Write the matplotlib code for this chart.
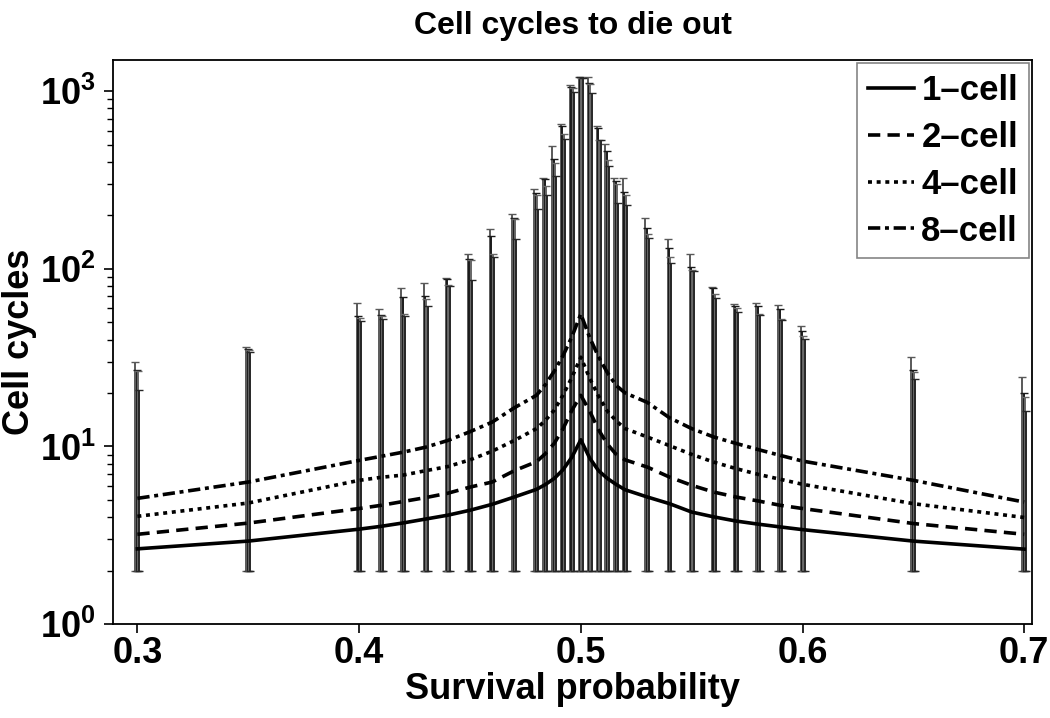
import numpy as np
import matplotlib
matplotlib.use("Agg")
import matplotlib.pyplot as plt
from matplotlib.ticker import LogLocator, NullFormatter

plt.rcParams['font.family'] = ['Liberation Sans', 'DejaVu Sans']
plt.rcParams['font.weight'] = 'bold'
plt.rcParams['mathtext.fontset'] = 'custom'
plt.rcParams['mathtext.rm'] = 'Liberation Sans:bold'
plt.rcParams['mathtext.bf'] = 'Liberation Sans:bold'
plt.rcParams['mathtext.default'] = 'rm'

# survival probability values where the runs were made
x = np.array([0.30, 0.35, 0.40, 0.41, 0.42, 0.43, 0.44, 0.45, 0.46, 0.47,
              0.48, 0.484, 0.488, 0.492, 0.496, 0.50, 0.504, 0.508, 0.512, 0.516,
              0.52, 0.53, 0.54, 0.55, 0.56, 0.57, 0.58, 0.59, 0.60, 0.65, 0.70])

# mean cell cycles to die out (curves)
one_cell = [2.65, 2.93, 3.42, 3.55, 3.71, 3.9, 4.1, 4.37, 4.72, 5.19,
            5.73, 6.1, 6.6, 7.4, 8.71, 10.9, 8.6, 7.3, 6.6, 6.1,
            5.7, 5.19, 4.76, 4.27, 4.01, 3.80, 3.65, 3.52, 3.40, 2.93, 2.64]
two_cell = [3.2, 3.7, 4.47, 4.66, 4.9, 5.15, 5.45, 5.9, 6.3, 7.3,
            8.2, 9.1, 10.4, 12.6, 16.0, 19.4, 15.8, 12.4, 10.3, 9.0,
            8.4, 7.65, 6.72, 6.04, 5.53, 5.19, 4.93, 4.66, 4.47, 3.68, 3.2]
four_cell = [4.04, 4.8, 6.44, 6.7, 6.9, 7.3, 7.7, 8.4, 9.4, 10.8,
             12.6, 14.0, 16.0, 19.5, 24.5, 31.8, 24.2, 19.2, 15.8, 13.9,
             12.6, 11.3, 10.1, 9.02, 8.16, 7.5, 6.96, 6.53, 6.12, 4.76, 3.98]
eight_cell = [5.1, 6.3, 8.34, 8.8, 9.29, 9.9, 10.8, 12.1, 13.7, 16.5,
              19.4, 22.3, 26.5, 32.5, 41.5, 55.7, 41.0, 32.0, 26.0, 22.0,
              20.0, 17.7, 14.5, 12.6, 11.3, 10.4, 9.6, 8.9, 8.27, 6.44, 4.86]

# simulated runs: lower end and upper ends of the error bars
err_floor = 2.0
top_a = [29.8, 36.5, 64.4, 59.4, 78.5, 83, 88.7, 121, 167, 203,
         281, 323, 495, 655, 1081, 1200, 1198, 635, 508, 323,
         323, 194, 147, 122, 79, 63.4, 64.3, 62.9, 47.9, 31.8, 24.7]
top_b = [27.0, 35.5, 54.4, 55.2, 69, 70.5, 87.6, 113, 153, 193,
         266, 320, 417, 640, 1060, 1198, 1113, 620, 460, 312,
         272, 169, 131, 103, 78, 61.6, 62, 59.4, 44.9, 27.0, 19.9]
top_c = [26.5, 35.0, 53, 54.4, 55.9, 67.5, 81.3, 112, 122, 190,
         260, 293, 393, 571, 1045, 1190, 1100, 535, 408, 300,
         260, 157, 116, 99, 72.6, 60, 55.5, 52, 42, 26.1, 18.9]
top_d = [20.9, 33.8, 51, 52, 54.4, 62, 80, 86.4, 117, 147,
         217, 260, 333, 542, 991, 1185, 980, 533, 379, 236,
         229, 149, 108, 97, 68.6, 57.5, 54.8, 51.2, 40.3, 24.0, 15.9]

labels = ['1\u2013cell', '2\u2013cell', '4\u2013cell', '8\u2013cell']

fig = plt.figure(figsize=(10.5, 7.18), dpi=100)
ax = fig.add_axes([113 / 1050, 1 - 624 / 718, (1032 - 113) / 1050, (624 - 60) / 718])

offsets = [-0.0009, -0.0003, 0.0003, 0.0009]
shades = ['0.35', '0.1', '0.4', '0.15']
for off, tops, c in zip(offsets, [top_a, top_b, top_c, top_d], shades):
    tops = np.array(tops)
    low = np.full_like(tops, err_floor)
    ax.errorbar(x + off, low, yerr=[np.zeros_like(tops), tops - low], fmt='none',
                ecolor=c, elinewidth=1.4, capsize=3, capthick=1.0)

lw = 2.6
ax.plot(x, one_cell, color='k', lw=lw, linestyle='-', label=labels[0])
ax.plot(x, two_cell, color='k', lw=lw, linestyle=(0, (3.4, 2.0)), label=labels[1])
ax.plot(x, four_cell, color='k', lw=lw, linestyle=(0, (1.1, 1.3)), label=labels[2])
ax.plot(x, eight_cell, color='k', lw=lw, linestyle=(0, (3.4, 1.3, 1.1, 1.3)), label=labels[3])

ax.set_yscale('log')
ax.set_ylim(1, 1500)
ax.set_xlim(0.289, 0.7035)
ax.set_xticks([0.3, 0.4, 0.5, 0.6, 0.7])
ax.set_xticklabels(['0.3', '0.4', '0.5', '0.6', '0.7'])
ax.set_yticks([1, 10, 100, 1000])
ax.set_yticklabels([r'$10^{0}$', r'$10^{1}$', r'$10^{2}$', r'$10^{3}$'])
ax.yaxis.set_minor_locator(LogLocator(base=10, subs=np.arange(2, 10)))
ax.yaxis.set_minor_formatter(NullFormatter())
ax.tick_params(axis='both', which='major', direction='out', length=6.5, width=1.2,
               labelsize=26, pad=6)
ax.tick_params(axis='x', which='major', pad=2)
ax.tick_params(axis='y', which='minor', direction='out', length=4, width=1.0)
for sp in ax.spines.values():
    sp.set_linewidth(1.3)

ax.set_xlabel('Survival probability', fontsize=26, fontweight='bold', labelpad=1)
ax.set_ylabel('Cell cycles', fontsize=26, fontweight='bold', labelpad=2)
ax.set_title('Cell cycles to die out', fontsize=23, fontweight='bold', pad=19)

leg = ax.legend(loc='upper right', fontsize=25, frameon=True, fancybox=False,
                edgecolor='0.4', handlelength=1.35, handletextpad=0.2,
                labelspacing=0.4, borderpad=0.3, borderaxespad=0.1)
leg.get_frame().set_linewidth(1.2)
for t in leg.get_texts():
    t.set_fontweight('bold')

fig.savefig('out.png', dpi=100)
